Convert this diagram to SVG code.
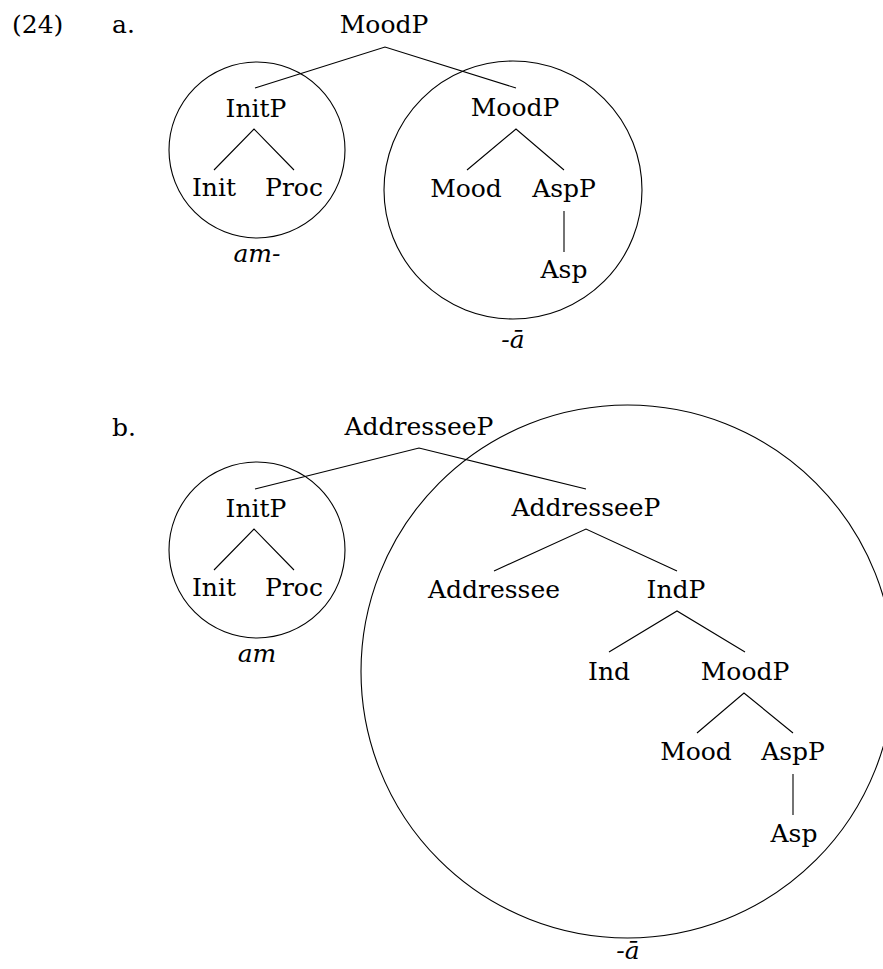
<svg xmlns="http://www.w3.org/2000/svg" width="883" height="969" viewBox="0 0 883 969">
  <style>
    text { font-family: "DejaVu Serif", "Liberation Serif", serif; font-size: 25px; fill: #000; }
    .n { text-anchor: middle; }
    .it { font-style: italic; text-anchor: middle; }
    .edge { stroke: #000; stroke-width: 1.1; fill: none; }
    .span { stroke: #000; stroke-width: 1.1; fill: none; }
  </style>
  <rect width="883" height="969" fill="#fff"/>

  <!-- example numbering -->
  <g id="labels">
    <text x="12" y="33">(24)</text>
    <text x="112" y="33">a.</text>
    <text x="112" y="436">b.</text>
  </g>

  <!-- spans grouped into morphemes -->
  <g id="spans">
    <circle class="span" cx="257" cy="150" r="88"/>
    <circle class="span" cx="513" cy="190" r="129"/>
    <circle class="span" cx="257" cy="550" r="88"/>
    <circle class="span" cx="627.5" cy="671.5" r="266.5"/>
  </g>

  <!-- tree branches -->
  <g id="connectors">
    <!-- (a) -->
    <path class="edge" d="M255,88 L385,47 L516,88"/>
    <path class="edge" d="M214,170 L254,129 L294,170"/>
    <path class="edge" d="M467,170 L516,129 L564,170"/>
    <path class="edge" d="M564,211 L564,252"/>
    <!-- (b) -->
    <path class="edge" d="M255,489 L419,448 L586,489"/>
    <path class="edge" d="M214,570 L254,529 L294,570"/>
    <path class="edge" d="M494,571 L586,529 L677,571"/>
    <path class="edge" d="M609,652 L677,611 L745,652"/>
    <path class="edge" d="M697,733 L744,693 L793,733"/>
    <path class="edge" d="M793,774 L793,815"/>
  </g>

  <!-- (a) nodes -->
  <g id="a-moodp-root"><text class="n" x="384" y="33">MoodP</text></g>
  <g id="a-initp"><text class="n" x="256" y="117">InitP</text></g>
  <g id="a-init"><text class="n" x="214" y="196">Init</text></g>
  <g id="a-proc"><text class="n" x="294" y="196">Proc</text></g>
  <g id="a-am"><text class="it" x="257" y="262">am-</text></g>
  <g id="a-moodp"><text class="n" x="515" y="116">MoodP</text></g>
  <g id="a-mood"><text class="n" x="466" y="197">Mood</text></g>
  <g id="a-aspp"><text class="n" x="564" y="197">AspP</text></g>
  <g id="a-asp"><text class="n" x="564" y="278">Asp</text></g>
  <g id="a-suffix"><text class="it" x="513" y="348">-ā</text></g>

  <!-- (b) nodes -->
  <g id="b-addresseep-root"><text class="n" x="419" y="435">AddresseeP</text></g>
  <g id="b-initp"><text class="n" x="256" y="517">InitP</text></g>
  <g id="b-init"><text class="n" x="214" y="596">Init</text></g>
  <g id="b-proc"><text class="n" x="294" y="596">Proc</text></g>
  <g id="b-am"><text class="it" x="257" y="662">am</text></g>
  <g id="b-addresseep"><text class="n" x="586" y="516">AddresseeP</text></g>
  <g id="b-addressee"><text class="n" x="494" y="598">Addressee</text></g>
  <g id="b-indp"><text class="n" x="676" y="598">IndP</text></g>
  <g id="b-ind"><text class="n" x="609" y="680">Ind</text></g>
  <g id="b-moodp"><text class="n" x="745" y="680">MoodP</text></g>
  <g id="b-mood"><text class="n" x="696" y="760">Mood</text></g>
  <g id="b-aspp"><text class="n" x="793" y="760">AspP</text></g>
  <g id="b-asp"><text class="n" x="794" y="842">Asp</text></g>
  <g id="b-suffix"><text class="it" x="628" y="959">-ā</text></g>
</svg>
